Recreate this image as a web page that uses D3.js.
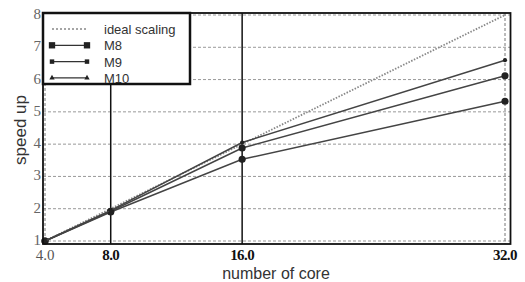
<!DOCTYPE html>
<html>
<head>
<meta charset="utf-8">
<script src="https://cdn.jsdelivr.net/npm/d3@7"></script>
<style>
body { margin: 0; background: #fff; }
</style>
</head>
<body>
<div id="chart"></div>
<script>
// cores and speedup values
var cores = [4, 8, 16, 32];
var ideal = [1, 2, 4, 8];
var m8 = [1, 1.9, 3.53, 5.33];
var m9 = [1, 1.92, 3.88, 6.12];
var m10 = [1, 1.95, 4.05, 6.6];
var yTicks = [1, 2, 3, 4, 5, 6, 7, 8];
var xTickLabels = ["4.0", "8.0", "16.0", "32.0"];

var width = 525, height = 282;
var svg = d3.select("#chart").append("svg")
    .attr("width", width)
    .attr("height", height);

var x = d3.scaleLinear().domain([4, 32]).range([45, 505]);
var y = d3.scaleLinear().domain([1, 8]).range([241, 15]);

var frameL = x(4) - 2, frameR = x(32) + 5.5, frameT = y(8) - 2, frameB = y(1) + 3;

// horizontal dashed grid
svg.selectAll(".hgrid")
    .data(yTicks)
    .enter()
    .append("line")
    .attr("x1", frameL).attr("x2", frameR)
    .attr("y1", function (d) { return y(d); })
    .attr("y2", function (d) { return y(d); })
    .style("stroke", "#999")
    .style("stroke-width", 1)
    .style("stroke-dasharray", "3,2");

// dashed verticals at 4 and 32
svg.selectAll(".vgrid")
    .data([4, 32])
    .enter()
    .append("line")
    .attr("x1", function (d) { return x(d); })
    .attr("x2", function (d) { return x(d); })
    .attr("y1", frameT).attr("y2", frameB)
    .style("stroke", "#777")
    .style("stroke-dasharray", "3,2");

// solid verticals at 8 and 16
svg.selectAll(".vsolid")
    .data([8, 16])
    .enter()
    .append("line")
    .attr("x1", function (d) { return x(d); })
    .attr("x2", function (d) { return x(d); })
    .attr("y1", frameT).attr("y2", frameB)
    .style("stroke", "#111")
    .style("stroke-width", 1.5);

var line = d3.line()
    .x(function (d, i) { return x(cores[i]); })
    .y(function (d) { return y(d); });

var series = [
    { name: "M8", values: m8, symbol: d3.symbolCircle, size: 40 },
    { name: "M9", values: m9, symbol: d3.symbolCircle, size: 40 },
    { name: "M10", values: m10, symbol: d3.symbolCircle, size: 14 }
];

svg.append("path")
    .datum(ideal)
    .attr("d", line)
    .style("fill", "none")
    .style("stroke", "#888")
    .style("stroke-width", 1.8)
    .style("stroke-dasharray", "1.5,1.5");

series.forEach(function (s) {
    svg.append("path")
        .datum(s.values)
        .attr("d", line)
        .style("fill", "none")
        .style("stroke", "#444")
        .style("stroke-width", 1.5);
    svg.selectAll(null)
        .data(s.values)
        .enter()
        .append("path")
        .attr("d", d3.symbol().type(s.symbol).size(s.size))
        .attr("transform", function (d, i) { return "translate(" + x(cores[i]) + "," + y(d) + ")"; })
        .style("fill", "#222");
});

// frame
svg.append("rect")
    .attr("x", frameL).attr("y", frameT)
    .attr("width", frameR - frameL).attr("height", frameB - frameT)
    .style("fill", "none")
    .style("stroke", "#111")
    .style("stroke-width", 1.8);

// y tick labels
svg.selectAll(".ylab")
    .data(yTicks)
    .enter()
    .append("text")
    .attr("x", frameL - 2)
    .attr("y", function (d) { return y(d) + 4; })
    .attr("text-anchor", "end")
    .style("font-family", "Liberation Serif, serif")
    .style("font-size", "15px")
    .style("fill", "#666")
    .text(function (d) { return d; });

// x tick labels
svg.selectAll(".xlab")
    .data(cores)
    .enter()
    .append("text")
    .attr("x", function (d) { return x(d); })
    .attr("y", 260)
    .attr("text-anchor", "middle")
    .style("font-family", "Liberation Serif, serif")
    .style("font-size", "15px")
    .style("font-weight", function (d, i) { return i === 0 ? "normal" : "bold"; })
    .style("fill", function (d, i) { return i === 0 ? "#555" : "#111"; })
    .style("letter-spacing", function (d, i) { return i === 0 ? "0px" : "-0.6px"; })
    .text(function (d, i) { return xTickLabels[i]; });

// axis titles
svg.append("text")
    .attr("x", 276).attr("y", 279)
    .attr("text-anchor", "middle")
    .style("font-family", "Liberation Sans, Arial, sans-serif")
    .style("font-size", "16px")
    .style("fill", "#333")
    .text("number of core");

svg.append("text")
    .attr("transform", "translate(26,130) rotate(-90)")
    .attr("text-anchor", "middle")
    .style("font-family", "Liberation Sans, Arial, sans-serif")
    .style("font-size", "17px")
    .style("fill", "#333")
    .text("speed up");

// legend
var lg = svg.append("g");
lg.append("rect")
    .attr("x", frameL).attr("y", frameT)
    .attr("width", 147).attr("height", 71)
    .style("fill", "#fff")
    .style("stroke", "#111")
    .style("stroke-width", 2.5);

var legendRows = [
    { name: "ideal scaling", dash: "2,2", color: "#888", symbol: null },
    { name: "M8", dash: null, color: "#333", symbol: d3.symbolSquare, size: 40 },
    { name: "M9", dash: null, color: "#333", symbol: d3.symbolSquare, size: 20 },
    { name: "M10", dash: null, color: "#333", symbol: d3.symbolTriangle, size: 12 }
];
legendRows.forEach(function (r, i) {
    var ly = 29 + i * 16.3;
    lg.append("line")
        .attr("x1", 52).attr("x2", 87)
        .attr("y1", ly).attr("y2", ly)
        .style("stroke", r.color)
        .style("stroke-width", 1.3)
        .style("stroke-dasharray", r.dash);
    if (r.symbol) {
        [52, 87].forEach(function (px) {
            lg.append("path")
                .attr("d", d3.symbol().type(r.symbol).size(r.size))
                .attr("transform", "translate(" + px + "," + ly + ")")
                .style("fill", "#222");
        });
    }
    lg.append("text")
        .attr("x", 104).attr("y", ly + 5)
        .style("font-family", "Liberation Sans, Arial, sans-serif")
        .style("font-size", "13px")
        .style("fill", "#333")
        .text(r.name);
});
</script>
</body>
</html>
